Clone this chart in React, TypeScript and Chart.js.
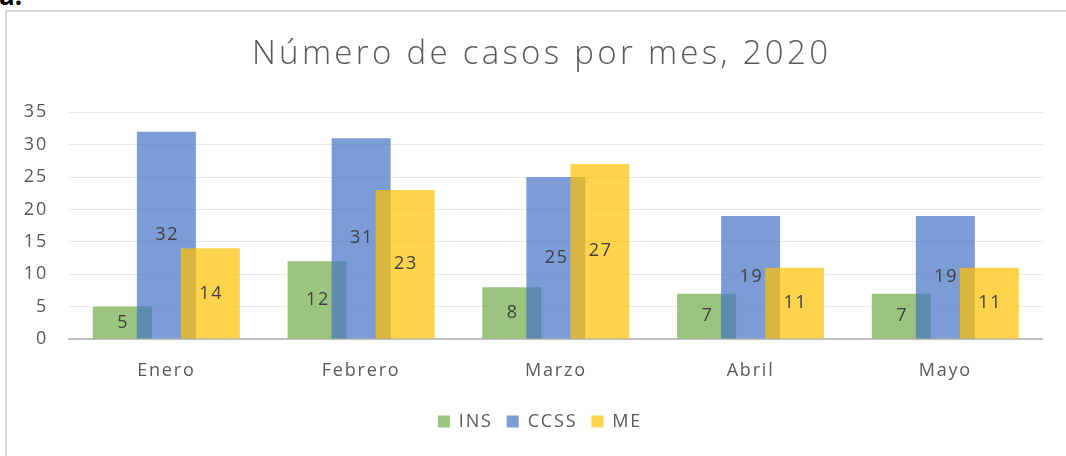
import React, { useEffect, useRef } from 'react';
import { Chart, registerables } from 'chart.js';

Chart.register(...registerables);

const TITLE = 'Número de casos por mes, 2020';
const CATEGORIES = ['Enero', 'Febrero', 'Marzo', 'Abril', 'Mayo'];
const SERIES_NAMES = ['INS', 'CCSS', 'ME'];
const INS = [5, 12, 8, 7, 7];
const CCSS = [32, 31, 25, 19, 19];
const ME = [14, 23, 27, 11, 11];
const Y_MIN = 0;
const Y_MAX = 35;
const Y_STEP = 5;

const COLORS = ['rgba(112,173,71,0.7)', 'rgba(68,114,196,0.7)', 'rgba(255,192,0,0.7)'];
const SERIES_OFFSET = 0.226; // distance between overlapping bars, in category units
const BAR_WIDTH = 0.303; // bar width, in category units
const FONT_FAMILY = '"Open Sans", "Noto Sans", sans-serif';
const LETTER_SPACING = 1.8;
const TITLE_SPACING = 3.3;
const TITLE_SIZE = 33;
const TITLE_Y = 55;
const TEXT_COLOR = '#595959';
const LABEL_COLOR = '#404040';
const CANVAS_W = 1080;
const CANVAS_H = 456;

const spacingPlugin = {
  id: 'letterSpacing',
  beforeUpdate(chart: any) {
    chart.ctx.letterSpacing = `${LETTER_SPACING}px`;
  },
  beforeDraw(chart: any) {
    chart.ctx.letterSpacing = `${LETTER_SPACING}px`;
  },
};

const titlePlugin = {
  id: 'spacedTitle',
  afterDraw(chart: any) {
    const ctx = chart.ctx;
    ctx.save();
    ctx.letterSpacing = `${TITLE_SPACING}px`;
    ctx.font = `300 ${TITLE_SIZE}px ${FONT_FAMILY}`;
    ctx.fillStyle = TEXT_COLOR;
    ctx.textAlign = 'center';
    ctx.textBaseline = 'middle';
    ctx.fillText(TITLE, chart.width / 2 + TITLE_SPACING / 2, TITLE_Y);
    ctx.restore();
  },
};

const valueLabelPlugin = {
  id: 'valueLabels',
  afterDatasetsDraw(chart: any) {
    const ctx = chart.ctx;
    ctx.save();
    ctx.letterSpacing = `${LETTER_SPACING}px`;
    ctx.font = `18px ${FONT_FAMILY}`;
    ctx.fillStyle = LABEL_COLOR;
    ctx.textAlign = 'center';
    ctx.textBaseline = 'middle';
    chart.data.datasets.forEach((ds: any, di: number) => {
      const meta = chart.getDatasetMeta(di);
      meta.data.forEach((bar: any, i: number) => {
        const p = bar.getProps(['x', 'y', 'base'], true);
        ctx.fillText(String(ds.data[i].y), p.x + LETTER_SPACING / 2, (p.y + p.base) / 2);
      });
    });
    ctx.restore();
  },
};

export default function App() {
  const canvasRef = useRef<HTMLCanvasElement | null>(null);

  useEffect(() => {
    const canvas = canvasRef.current;
    if (!canvas) return;
    const seriesValues = [INS, CCSS, ME];
    const datasets = seriesValues.map((vals, k) => ({
      label: SERIES_NAMES[k],
      data: vals.map((v, i) => ({ x: i + (k - 1) * SERIES_OFFSET, y: v })),
      backgroundColor: COLORS[k],
      borderWidth: 0,
      grouped: false,
      order: seriesValues.length - k,
      barPercentage: BAR_WIDTH / SERIES_OFFSET,
      categoryPercentage: 1,
    }));

    const chart = new Chart(canvas, {
      type: 'bar',
      data: { datasets },
      options: {
        animation: false,
        responsive: false,
        devicePixelRatio: 1,
        layout: { padding: { left: 0, right: 0, top: 112.3, bottom: 15.5 } },
        plugins: {
          title: { display: false },
          legend: {
            display: true,
            position: 'bottom',
            labels: {
              boxWidth: 12,
              boxHeight: 12,
              padding: 14,
              color: TEXT_COLOR,
              font: { family: FONT_FAMILY, size: 18 },
              sort: (a: any, b: any) => a.datasetIndex - b.datasetIndex,
            },
          },
          tooltip: { enabled: false },
        },
        scales: {
          x: {
            type: 'linear',
            min: -0.5,
            max: CATEGORIES.length - 0.5,
            offset: false,
            afterBuildTicks: (axis: any) => {
              axis.ticks = CATEGORIES.map((_, i) => ({ value: i }));
            },
            afterFit: (axis: any) => {
              axis.height = 59.5;
            },
            ticks: {
              callback: (v: any) => CATEGORIES[Math.round(Number(v))] ?? '',
              color: TEXT_COLOR,
              font: { family: FONT_FAMILY, size: 18 },
              padding: 21,
              maxRotation: 0,
              autoSkip: false,
            },
            grid: { display: false, drawTicks: false },
            border: { display: true, color: '#BFBFBF', width: 2 },
          },
          y: {
            min: Y_MIN,
            max: Y_MAX,
            afterFit: (axis: any) => {
              axis.width = 69;
            },
            ticks: {
              stepSize: Y_STEP,
              color: TEXT_COLOR,
              font: { family: FONT_FAMILY, size: 18 },
              padding: 21,
            },
            grid: { color: '#E9E9E9', lineWidth: 1, drawTicks: false },
            border: { display: false },
          },
          yRight: {
            type: 'linear',
            position: 'right',
            display: true,
            min: Y_MIN,
            max: Y_MAX,
            afterFit: (axis: any) => {
              axis.width = 37.3;
            },
            ticks: { display: false },
            grid: { display: false, drawTicks: false },
            border: { display: false },
          },
        },
      } as any,
      plugins: [spacingPlugin, valueLabelPlugin, titlePlugin],
    });

    return () => chart.destroy();
  }, []);

  return (
    <div
      style={{
        position: 'fixed',
        left: 0,
        top: 0,
        width: 1066,
        height: 456,
        overflow: 'hidden',
        background: '#ffffff',
      }}
    >
      <div
        style={{
          position: 'absolute',
          left: -1,
          top: -18.5,
          fontFamily: FONT_FAMILY,
          fontWeight: 700,
          fontSize: 26,
          lineHeight: 1,
          color: '#000000',
        }}
      >
        a.
      </div>
      <div
        style={{
          position: 'absolute',
          left: 5,
          top: 10,
          width: 1070,
          height: 480,
          border: '2px solid #D9D9D9',
          boxSizing: 'border-box',
        }}
      />
      <canvas
        ref={canvasRef}
        width={CANVAS_W}
        height={CANVAS_H}
        style={{ position: 'absolute', left: 0, top: 0, width: CANVAS_W, height: CANVAS_H }}
      />
    </div>
  );
}
